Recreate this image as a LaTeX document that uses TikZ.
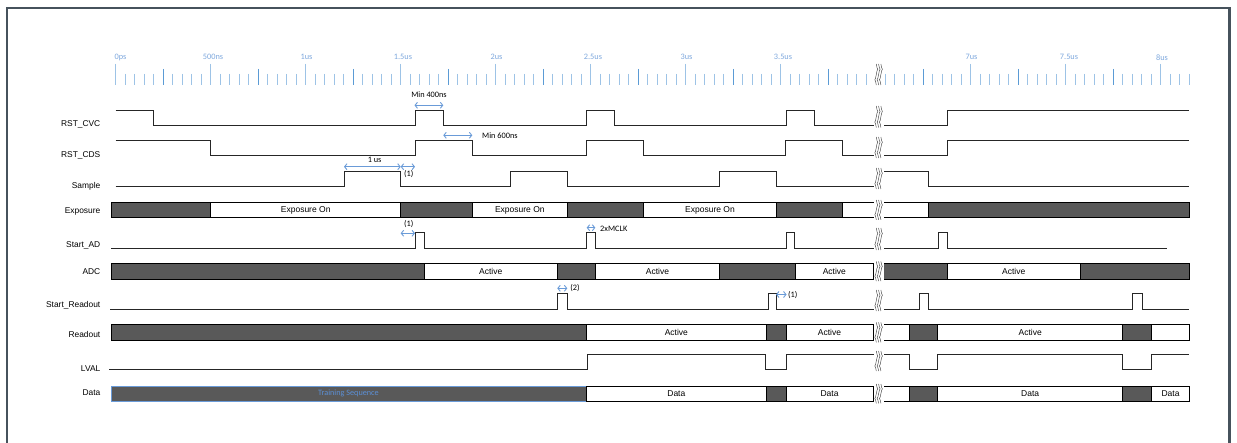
\documentclass[tikz,border=0pt]{standalone}
\usepackage{fontspec}
\setmainfont{Liberation Sans}
\newfontfamily\calfont{Carlito}
\usetikzlibrary{arrows.meta}
\definecolor{framec}{HTML}{46525C}
\definecolor{ticklight}{HTML}{9DC3E6}
\definecolor{tickdark}{HTML}{5B9BD5}
\definecolor{annblue}{HTML}{6A9BD8}
\definecolor{labblue}{HTML}{7FA9DE}
\definecolor{trainblue}{HTML}{5B8FD5}
\definecolor{darkfill}{HTML}{595959}
\definecolor{sigc}{HTML}{262626}
\tikzset{
  sig/.style={draw=sigc, line width=1.0pt, line join=miter},
  darkseg/.style={draw=black, fill=darkfill, line width=0.9pt},
  liteseg/.style={draw=black, fill=white, line width=0.9pt},
  segtext/.style={font=\fontsize{8.5}{10}\selectfont, text=black, inner sep=0pt},
  siglab/.style={font=\fontsize{8.4}{10}\selectfont, anchor=east, inner sep=0pt, text height=6pt, text depth=1pt},
  ticklab/.style={font=\calfont\fontsize{8.3}{9}\selectfont, text=labblue, inner sep=0pt},
  tickA/.style={draw=ticklight, line width=0.9pt},
  tickB/.style={draw=tickdark, line width=0.9pt},
  annarr/.style={draw=annblue, line width=0.9pt, arrows={Straight Barb[length=2.4pt,width=6pt]-Straight Barb[length=2.4pt,width=6pt]}},
  anntext/.style={font=\calfont\fontsize{8.3}{9}\selectfont, text=black, inner sep=0pt},
  brkline/.style={draw=black!75, line width=0.45pt},
}
\newcommand\mytick[2]{%
  \pgfmathtruncatemacro\ma{mod(#1,10)}%
  \pgfmathtruncatemacro\mb{mod(#1,5)}%
  \ifnum\ma=0 \draw[tickA] (#2,64) -- (#2,85);%
  \else\ifnum\mb=0 \draw[tickB] (#2,69) -- (#2,85);%
  \else \draw[tickA] (#2,74) -- (#2,85);\fi\fi}
\newcommand\wseg[6]{%
  \draw[liteseg] (#1,#3) rectangle (#2,#4);
  \node[segtext] (#5) at ({(#1+#2)/2},{(#3+#4)/2}) {#6};}
\newcommand\dseg[4]{\draw[darkseg] (#1,#3) rectangle (#2,#4);}
\newcommand\brk[2]{%
  \fill[white] (874,#1) rectangle (883.5,#2);
  \foreach \xo in {876.3,878.6,880.9}{
    \draw[brkline] (\xo,#1) sin ({\xo+1.5},{#1+(#2-#1)/4}) cos (\xo,{(#1+#2)/2})
      sin ({\xo-1.5},{#1+3*(#2-#1)/4}) cos (\xo,#2);
  }}
\begin{document}
\begin{tikzpicture}[x=1pt,y=-1pt]
\useasboundingbox (0,0) rectangle (1237,443);
\fill[white] (0,0) rectangle (1237,443);
% frame
\draw[framec, line width=2.4pt] (7,446) -- (7,8.3) -- (1229.3,8.3) -- (1229.3,446);

% time axis ticks
\foreach \i in {0,...,79}{\pgfmathsetmacro\xx{115.7+9.5*\i}\mytick{\i}{\xx}}
\foreach \i in {131,...,163}{\pgfmathsetmacro\xx{115.7+9.5*(\i-50)}\mytick{\i}{\xx}}
\node[ticklab, anchor=west] (t0) at (114.5,57.3) {0ps};
\node[ticklab] (t1) at (213,57) {500ns};
\node[ticklab] (t2) at (306.5,57) {1us};
\node[ticklab] (t3) at (403,57) {1.5us};
\node[ticklab] (t4) at (496.5,57) {2us};
\node[ticklab] (t5) at (593,57) {2.5us};
\node[ticklab] (t6) at (686.5,57) {3us};
\node[ticklab] (t7) at (783,57) {3.5us};
\node[ticklab] (t8) at (971.5,57) {7us};
\node[ticklab] (t9) at (1069,57.3) {7.5us};
\node[ticklab] (t10) at (1162,57.3) {8us};

% signal labels
\node[siglab] (l1) at (100.5,124.5) {RST\_CVC};
\node[siglab] (l2) at (100.5,155) {RST\_CDS};
\node[siglab] (l3) at (100.5,186) {Sample};
\node[siglab] (l4) at (100.5,211) {Exposure};
\node[siglab] (l5) at (100.5,245.5) {Start\_AD};
\node[siglab] (l6) at (100.5,272.5) {ADC};
\node[siglab] (l7) at (100.5,305.5) {Start\_Readout};
\node[siglab] (l8) at (100.5,335.5) {Readout};
\node[siglab] (l9) at (100.5,369.5) {LVAL};
\node[siglab] (l10) at (100.5,393.5) {Data};

% RST_CVC
\draw[sig] (115.7,110.3) -- (153.5,110.3) -- (153.5,125.7) -- (415,125.7) -- (415,110.3) -- (443.3,110.3) -- (443.3,125.7) -- (586,125.7) -- (586,110.3) -- (614.3,110.3) -- (614.3,125.7) -- (786.7,125.7) -- (786.7,110.3) -- (814,110.3) -- (814,125.7) -- (947.3,125.7) -- (947.3,110.3) -- (1189.3,110.3);
% RST_CDS
\draw[sig] (115.7,141) -- (210.7,141) -- (210.7,156) -- (415,156) -- (415,141) -- (472.3,141) -- (472.3,156) -- (586,156) -- (586,141) -- (643.3,141) -- (643.3,156) -- (785.7,156) -- (785.7,141) -- (842.7,141) -- (842.7,156) -- (947.3,156) -- (947.3,141) -- (1189.3,141);
% Sample
\draw[sig] (115.7,187) -- (344,187) -- (344,171.7) -- (400.7,171.7) -- (400.7,187) -- (510,187) -- (510,171.7) -- (567.3,171.7) -- (567.3,187) -- (719.3,187) -- (719.3,171.7) -- (776.7,171.7) -- (776.7,187) -- (878,187) -- (878,171.7) -- (928.3,171.7) -- (928.3,187) -- (1189.3,187);

% Exposure
\def\T{202.3}\def\B{217.7}
\dseg{111}{210.7}{\T}{\B}
\wseg{210.7}{400.7}{\T}{\B}{e1}{Exposure On}
\dseg{400.7}{472.3}{\T}{\B}
\wseg{472.3}{567.3}{\T}{\B}{e2}{Exposure On}
\dseg{567.3}{643.3}{\T}{\B}
\wseg{643.3}{776.7}{\T}{\B}{e3}{Exposure On}
\dseg{776.7}{842.7}{\T}{\B}
\wseg{842.7}{928.3}{\T}{\B}{e4}{}
\dseg{928.3}{1189.3}{\T}{\B}

% Start_AD
\draw[sig] (111,248.3) -- (415,248.3) -- (415,232.3) -- (424,232.3) -- (424,248.3) -- (586.7,248.3) -- (586.7,232.3) -- (595.3,232.3) -- (595.3,248.3) -- (786,248.3) -- (786,232.3) -- (794.7,232.3) -- (794.7,248.3) -- (938.7,248.3) -- (938.7,232.3) -- (947.3,232.3) -- (947.3,248.3) -- (1166.7,248.3);

% ADC
\def\T{263.7}\def\B{279}
\dseg{111}{424}{\T}{\B}
\wseg{424}{557.3}{\T}{\B}{a1}{Active}
\dseg{557.3}{595.7}{\T}{\B}
\wseg{595.7}{719.3}{\T}{\B}{a2}{Active}
\dseg{719.3}{795.7}{\T}{\B}
\wseg{795.7}{873}{\T}{\B}{a3}{Active}
\dseg{873}{947.3}{\T}{\B}
\wseg{947.3}{1080}{\T}{\B}{a4}{Active}
\dseg{1080}{1189.3}{\T}{\B}

% Start_Readout
\draw[sig] (110,309.3) -- (557.3,309.3) -- (557.3,294) -- (567.3,294) -- (567.3,309.3) -- (768.3,309.3) -- (768.3,294) -- (776,294) -- (776,309.3) -- (919,309.3) -- (919,294) -- (928.3,294) -- (928.3,309.3) -- (1132.7,309.3) -- (1132.7,294) -- (1142.3,294) -- (1142.3,309.3) -- (1189.3,309.3);

% Readout
\def\T{324.3}\def\B{340.3}
\dseg{111}{586}{\T}{\B}
\wseg{586}{766.7}{\T}{\B}{r1}{Active}
\dseg{766.7}{786}{\T}{\B}
\wseg{786}{873}{\T}{\B}{r2}{Active}
\wseg{873}{909.3}{\T}{\B}{r3}{}
\dseg{909.3}{937.7}{\T}{\B}
\wseg{937.7}{1122.7}{\T}{\B}{r4}{Active}
\dseg{1122.7}{1151.7}{\T}{\B}
\wseg{1151.7}{1189.3}{\T}{\B}{r5}{}

% LVAL
\draw[sig] (109,369.3) -- (587.3,369.3) -- (587.3,354.7) -- (765.7,354.7) -- (765.7,369.3) -- (786,369.3) -- (786,354.7) -- (909.3,354.7) -- (909.3,369.3) -- (937.7,369.3) -- (937.7,354.7) -- (1122.7,354.7) -- (1122.7,369.3) -- (1151.7,369.3) -- (1151.7,354.7) -- (1189.3,354.7);

% Data
\def\T{386}\def\B{401.3}
\draw[darkseg, draw=annblue] (111,\T) rectangle (586,\B);
\node[font=\calfont\fontsize{8.2}{9}\selectfont, text=trainblue, inner sep=0pt] (ts) at (348.5,393.8) {Training Sequence};
\wseg{586}{766.7}{\T}{\B}{d1}{Data}
\dseg{766.7}{786}{\T}{\B}
\wseg{786}{873}{\T}{\B}{d2}{Data}
\wseg{873}{909.3}{\T}{\B}{d3}{}
\dseg{909.3}{937.7}{\T}{\B}
\wseg{937.7}{1122.7}{\T}{\B}{d4}{Data}
\dseg{1122.7}{1151.7}{\T}{\B}
\wseg{1151.7}{1189.3}{\T}{\B}{d5}{Data}

% break marks
\brk{64}{85}
\brk{106}{127.5}
\brk{137}{158}
\brk{168}{189}
\brk{200}{219.8}
\brk{228}{250}
\brk{261.5}{281.2}
\brk{290}{311}
\brk{322.3}{342.3}
\brk{351}{371}
\brk{384}{403.3}

% annotations
\coordinate (m4a) at (414.5,105.3); \coordinate (m4b) at (443.3,105.3);
\draw[annarr] (m4a) -- (m4b);
\node[anntext] (m4t) at (429,94.7) {Min 400ns};
\coordinate (m6a) at (443.3,135.3); \coordinate (m6b) at (472.3,135.3);
\draw[annarr] (m6a) -- (m6b);
\node[anntext, anchor=west] (m6t) at (482,135.3) {Min 600ns};
\coordinate (u1a) at (344,166.7); \coordinate (u1b) at (400.7,166.7); \coordinate (u1c) at (415,166.7);
\draw[annarr] (u1a) -- (u1b);
\draw[annarr] (u1b) -- (u1c);
\node[anntext] (u1t) at (374.6,160.3) {1 us};
\node[anntext] (s1t) at (408.7,174.5) {(1)};
\coordinate (adA) at (400.7,233.3); \coordinate (adB) at (415,233.3);
\draw[annarr] (adA) -- (adB);
\node[anntext] (ad1t) at (408.7,224.5) {(1)};
\coordinate (mcA) at (586.7,227.7); \coordinate (mcB) at (595.3,227.7);
\draw[annarr] (mcA) -- (mcB);
\node[anntext, anchor=west] (mct) at (600,229) {2xMCLK};
\coordinate (srA) at (557.3,288.3); \coordinate (srB) at (567.3,288.3);
\draw[annarr] (srA) -- (srB);
\node[anntext, anchor=west] (sr2t) at (570.2,287.8) {(2)};
\coordinate (sr1A) at (776,294.5); \coordinate (sr1B) at (786.5,294.5);
\draw[annarr] (sr1A) -- (sr1B);
\node[anntext, anchor=west] (sr1t) at (788,295.3) {(1)};
\end{tikzpicture}
\end{document}
